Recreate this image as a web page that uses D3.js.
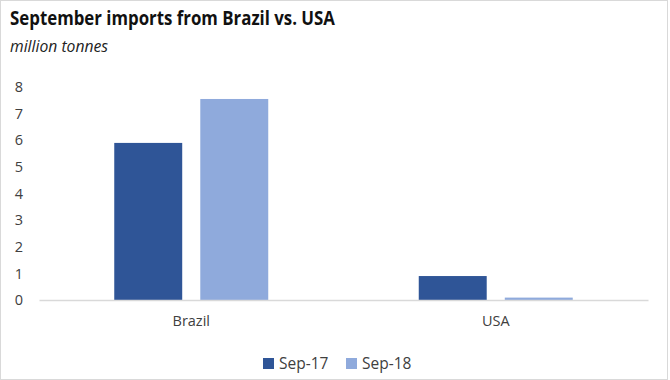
<!DOCTYPE html>
<html>
<head>
<meta charset="utf-8">
<script src="https://cdn.jsdelivr.net/npm/d3@7"></script>
<style>
  body { margin: 0; background: #fff; }
  text { font-family: "Open Sans", "Liberation Sans", sans-serif; }
</style>
</head>
<body>
<div class="chart"></div>
<script>
// chart data
var categories = ["Brazil", "USA"];
var seriesNames = ["Sep-17", "Sep-18"];
var sep17 = [5.9, 0.9];
var sep18 = [7.55, 0.09];
var yTicks = [0, 1, 2, 3, 4, 5, 6, 7, 8];

var colors = { "Sep-17": "#2F5597", "Sep-18": "#8FAADC" };

var svgWidth = 670;
var svgHeight = 380;

var svg = d3.select(".chart")
  .append("svg")
  .attr("width", svgWidth)
  .attr("height", svgHeight);

// light frame round the picture
svg.append("rect")
  .attr("x", 0.5).attr("y", 0.5)
  .attr("width", 667).attr("height", 379)
  .attr("fill", "none")
  .attr("stroke", "#d9d9d9");

// titles
svg.append("text")
  .attr("x", 10).attr("y", 25)
  .attr("font-size", 20)
  .attr("font-weight", "bold")
  .attr("fill", "#111")
  .attr("textLength", 325)
  .attr("lengthAdjust", "spacingAndGlyphs")
  .text("September imports from Brazil vs. USA");

svg.append("text")
  .attr("x", 10).attr("y", 52)
  .attr("font-size", 16)
  .attr("font-style", "italic")
  .attr("fill", "#222")
  .attr("textLength", 98)
  .attr("lengthAdjust", "spacingAndGlyphs")
  .text("million tonnes");

// scales
var x0 = d3.scaleBand()
  .domain(categories)
  .range([39, 648])
  .padding(0);

var groupW = 154;
var x1 = d3.scaleBand()
  .domain(seriesNames)
  .range([(x0.bandwidth() - groupW) / 2, (x0.bandwidth() + groupW) / 2])
  .paddingInner(0.21)
  .paddingOuter(0);

var y = d3.scaleLinear()
  .domain([0, 8])
  .range([300, 87]);

// y axis (labels only)
var yAxis = svg.append("g")
  .attr("transform", "translate(23,0)")
  .call(d3.axisLeft(y).tickValues(yTicks).tickSize(0).tickPadding(0).tickFormat(d3.format("d")));
yAxis.select(".domain").remove();
yAxis.selectAll("text")
  .attr("font-size", 14.5)
  .attr("fill", "#404040")
  .style("font-family", "'Open Sans', sans-serif");

// bars
var rows = categories.map(function(c, i) {
  return { cat: c, values: [
    { key: "Sep-17", value: sep17[i] },
    { key: "Sep-18", value: sep18[i] }
  ] };
});

var groups = svg.selectAll(".grp")
  .data(rows)
  .enter()
  .append("g")
  .attr("class", "grp")
  .attr("transform", d => `translate(${x0(d.cat)},0)`);

groups.selectAll("rect")
  .data(d => d.values)
  .enter()
  .append("rect")
  .attr("x", d => x1(d.key))
  .attr("y", d => y(d.value))
  .attr("width", x1.bandwidth())
  .attr("height", d => y(0) - y(d.value))
  .attr("fill", d => colors[d.key]);

// x axis
var xAxis = svg.append("g")
  .attr("transform", `translate(0,${y(0)})`)
  .call(d3.axisBottom(x0).tickSize(0).tickPadding(16).tickSizeOuter(0));
xAxis.select(".domain").attr("stroke", "#d9d9d9").attr("stroke-width", 1.5);
xAxis.selectAll("text")
  .attr("font-size", 14.5)
  .attr("fill", "#404040")
  .style("font-family", "'Open Sans', sans-serif");

// legend
var legendX = [263, 346];
var legend = svg.selectAll(".legend")
  .data(seriesNames)
  .enter()
  .append("g")
  .attr("class", "legend")
  .attr("transform", (d, i) => `translate(${legendX[i]},358)`);

legend.append("rect")
  .attr("width", 11).attr("height", 11)
  .attr("fill", d => colors[d]);

legend.append("text")
  .attr("x", 16).attr("y", 11)
  .attr("font-size", 15.5)
  .attr("fill", "#404040")
  .text(d => d);
</script>
</body>
</html>
